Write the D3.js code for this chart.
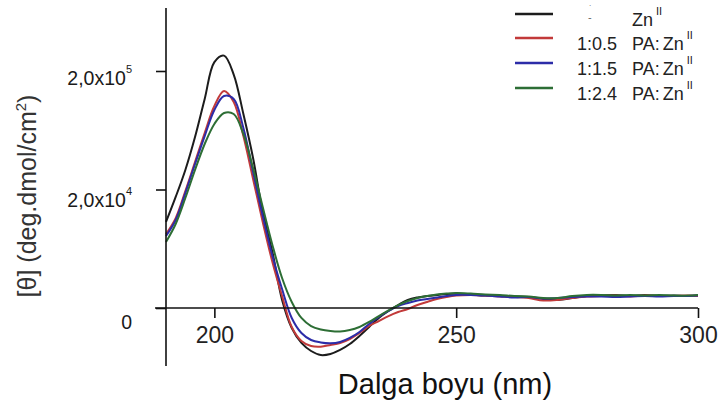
<!DOCTYPE html>
<html><head><meta charset="utf-8">
<script src="https://cdn.jsdelivr.net/npm/d3@7/dist/d3.min.js"></script>
<style>
body{margin:0;background:#fff}
svg{display:block;font-family:"Liberation Sans",Arial,Helvetica,sans-serif}
</style>
</head><body>
<svg id="chart" width="719" height="410"></svg>
<script>
// ---------- DATA ----------
const wavelengths = [190,192,194,196,198,200,202,204,206,208,210,212,214,216,218,220,222,224,226,228,230,232,234,236,238,240,242,244,246,248,250,
  253,256,259,262,265,268,271,274,277,280,283,286,289,292,295,298,300];

const znOnly = [7.26,9.37,11.65,14.43,17.64,20.75,21.30,19.70,16.37,12.66,8.10,4.73,0.68,-1.69,-2.95,-3.63,-3.97,-3.88,-3.54,-3.04,-2.36,-1.60,-0.84,-0.25,0.25,0.68,0.89,1.01,1.10,1.18,1.22,
  1.14,1.05,1.01,0.97,0.93,0.76,0.68,0.84,1.01,1.05,1.10,1.01,1.10,1.01,1.05,1.01,1.05];

const pa05 = [6.24,7.59,9.87,12.32,14.77,17.05,18.31,17.38,14.51,10.89,7.26,3.88,1.01,-1.60,-2.78,-3.21,-3.27,-3.12,-2.95,-2.62,-2.11,-1.52,-1.10,-0.68,-0.34,-0.08,0.25,0.51,0.76,0.93,1.05,
  1.10,1.05,0.97,0.93,0.84,0.63,0.68,0.84,0.97,1.01,1.05,0.97,1.05,1.01,1.01,1.05,1.01];

const pa15 = [6.08,7.43,9.70,12.15,14.51,16.71,17.89,17.64,15.19,11.48,7.76,4.39,1.60,-0.84,-2.11,-2.70,-2.91,-2.98,-2.87,-2.53,-2.03,-1.35,-0.76,-0.25,0.17,0.42,0.63,0.76,0.89,1.01,1.10,
  1.10,1.05,0.97,0.89,0.93,0.80,0.84,0.93,0.97,0.97,0.93,0.97,1.01,0.97,1.01,1.01,1.05];

const pa24 = [5.57,7.09,9.28,11.65,13.84,15.53,16.46,16.37,14.68,11.81,8.52,5.32,2.53,0.51,-0.84,-1.52,-1.81,-1.94,-1.98,-1.86,-1.60,-1.18,-0.68,-0.21,0.25,0.59,0.84,1.01,1.14,1.22,1.27,
  1.22,1.14,1.10,1.01,0.97,0.84,0.84,1.01,1.10,1.10,1.05,1.10,1.05,1.10,1.05,1.05,1.10];

const seriesColors = ["#1c1c1c","#c23a3a","#2c2ca8","#2d6e35"];
const legendRatios = ["","1:0.5","1:1.5","1:2.4"];
const legendPA = ["","PA:","PA:","PA:"];

const xTicks = [200,250,300];
const yTicks = [0,10,20];
const yTickBase = ["0","2,0x10","2,0x10"];
const yTickExp = ["","4","5"];

const xTitle = "Dalga boyu (nm)";

// ---------- DRAW ----------
const svg = d3.select("#chart");
const x = d3.scaleLinear().domain([190,300]).range([166,698]);
const y = d3.scaleLinear().domain([0,20]).range([308,71]);

const series = [znOnly,pa05,pa15,pa24];
const line = d3.line()
  .x((d,i)=>x(wavelengths[i]))
  .y(d=>y(d))
  .curve(d3.curveCatmullRom.alpha(0.5));

series.forEach((s,k)=>{
  svg.append("path").datum(s)
    .attr("fill","none")
    .attr("stroke",seriesColors[k])
    .attr("stroke-width",2)
    .attr("stroke-linejoin","round")
    .attr("d",line);
});

// axes lines
svg.append("line").attr("x1",x(190)).attr("x2",x(190)).attr("y1",8).attr("y2",366)
  .attr("stroke","#111").attr("stroke-width",1.6);
svg.append("line").attr("x1",155).attr("x2",x(300)).attr("y1",y(0)).attr("y2",y(0))
  .attr("stroke","#111").attr("stroke-width",1.6);

// x axis ticks
const xAxis = d3.axisBottom(x).tickValues(xTicks).tickSize(10).tickSizeOuter(0).tickFormat(d3.format("d"));
const gx = svg.append("g").attr("transform",`translate(0,${y(0)})`).call(xAxis);
gx.select(".domain").remove();
gx.selectAll(".tick line").attr("stroke","#111").attr("stroke-width",1.6);
gx.selectAll(".tick text").attr("font-size",23).attr("fill","#222")
  .attr("y",35).attr("dy",0).attr("font-family","Liberation Sans, Arial, sans-serif");

// y axis ticks
const yOffsets = [20,17,13];
const yAxis = d3.axisLeft(y).tickValues(yTicks).tickSize(10).tickSizeOuter(0).tickFormat("");
const gy = svg.append("g").attr("transform",`translate(${x(190)},0)`).call(yAxis);
gy.select(".domain").remove();
gy.selectAll(".tick line").attr("stroke","#111").attr("stroke-width",1.6);
gy.selectAll(".tick").each(function(d,i){
  const t = d3.select(this).append("text")
    .attr("x",-34).attr("y",yOffsets[i]).attr("dy",0)
    .attr("text-anchor","end").attr("fill","#1a1a1a")
    .attr("font-size",19.5).attr("font-family","Liberation Sans, Arial, sans-serif");
  t.append("tspan").text(yTickBase[i]);
  if (yTickExp[i]) t.append("tspan").attr("font-size",11).attr("dy",-12).text(yTickExp[i]);
});

// axis titles
svg.append("text").attr("x",445).attr("y",394).attr("text-anchor","middle")
  .attr("font-size",29).attr("fill","#111").text(xTitle);

const yt = svg.append("text").attr("transform","translate(36,196) rotate(-90)")
  .attr("text-anchor","middle").attr("font-size",25).attr("fill","#333");
yt.append("tspan").text("[θ] (deg.dmol/cm");
yt.append("tspan").attr("font-size",15).attr("dy",-10).text("2");
yt.append("tspan").attr("dy",10).text(")");

// legend
const legendY = [14,38,63,88];
seriesColors.forEach((c,i)=>{
  svg.append("line").attr("x1",515).attr("x2",553).attr("y1",legendY[i]).attr("y2",legendY[i])
    .attr("stroke",c).attr("stroke-width",2.5);
  const g = svg.append("g").attr("font-size",18).attr("fill","#222");
  if (legendRatios[i]) g.append("text").attr("x",577).attr("y",legendY[i]+11.5).text(legendRatios[i]);
  const t = g.append("text").attr("x",632).attr("y",legendY[i]+11.5);
  if (legendPA[i]) t.append("tspan").text(legendPA[i]);
  t.append("tspan").attr("dx",legendPA[i]?3:0).text("Zn");
  t.append("tspan").attr("font-size",11).attr("dx",3).attr("dy",-11).text("II");
});
// faint remnant marks in first legend row
svg.append("text").attr("x",588).attr("y",21).attr("font-size",11).attr("fill","#666").text("-");
svg.append("text").attr("x",589).attr("y",6).attr("font-size",8).attr("fill","#666").text(".");
</script>
</body></html>
